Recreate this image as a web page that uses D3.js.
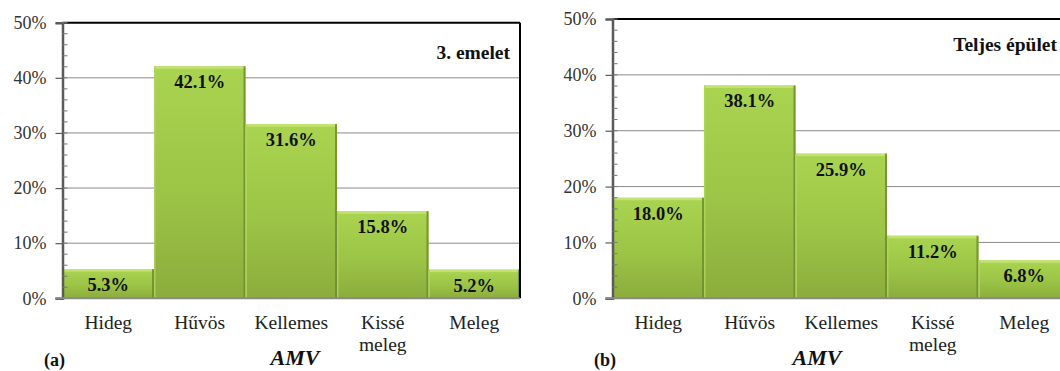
<!DOCTYPE html>
<html>
<head>
<meta charset="utf-8">
<script src="https://cdn.jsdelivr.net/npm/d3@7"></script>
<style>
  html, body { margin: 0; padding: 0; background: #fff; }
  svg { display: block; }
</style>
</head>
<body>
<svg id="chart" width="1060" height="371"></svg>
<script>
// Thermal sensation votes (AMV) distribution
const categories = [["Hideg"], ["Hűvös"], ["Kellemes"], ["Kissé", "meleg"], ["Meleg"]];
const floor3Values = [5.3, 42.1, 31.6, 15.8, 5.2];
const buildingValues = [18.0, 38.1, 25.9, 11.2, 6.8];
const yTicks = [0, 10, 20, 30, 40, 50];
const minorTicks = d3.range(0, 50.01, 2);

const SERIF = "'Liberation Serif', 'DejaVu Serif', serif";

const panels = [
  { key: "a", tag: "(a)", title: "3. emelet", values: floor3Values,
    left: 62.5, right: 520, top: 22.7, bottom: 298.3,
    titleX: 510, titleY: 59, tagX: 44, axisTitleX: 295 },
  { key: "b", tag: "(b)", title: "Teljes épület", values: buildingValues,
    left: 612.5, right: 1070, top: 19, bottom: 298.3,
    titleX: 1057, titleY: 51, tagX: 594, axisTitleX: 817 }
];

const svg = d3.select("#chart").style("font-family", SERIF);
const defs = svg.append("defs");
const grad = defs.append("linearGradient")
  .attr("id", "barFill").attr("x1", 0).attr("y1", 0).attr("x2", 0).attr("y2", 1);
grad.append("stop").attr("offset", "0%").attr("stop-color", "#a9d450");
grad.append("stop").attr("offset", "55%").attr("stop-color", "#9cc446");
grad.append("stop").attr("offset", "100%").attr("stop-color", "#8cac3c");

function serifText(sel) {
  return sel.style("font-family", SERIF).attr("fill", "#111");
}

panels.forEach(p => {
  const g = svg.append("g").attr("class", "panel-" + p.key);
  const x = d3.scaleBand()
    .domain(categories.map((c, i) => i))
    .range([p.left, p.right])
    .paddingInner(0).paddingOuter(0);
  const y = d3.scaleLinear().domain([0, 50]).range([p.bottom, p.top]);

  // gridlines
  g.append("g").selectAll("line").data(yTicks.filter(t => t > 0 && t < 50)).join("line")
    .attr("x1", p.left).attr("x2", p.right)
    .attr("y1", d => y(d)).attr("y2", d => y(d))
    .attr("stroke", "#8a8a8a").attr("stroke-width", 1);

  // bars
  const bars = g.append("g").selectAll("g").data(p.values).join("g");
  bars.append("rect")
    .attr("x", (d, i) => x(i)).attr("y", d => y(d))
    .attr("width", x.bandwidth()).attr("height", d => y(0) - y(d))
    .attr("fill", "url(#barFill)");
  // top highlight
  bars.append("rect")
    .attr("x", (d, i) => x(i) + 1).attr("y", d => y(d))
    .attr("width", x.bandwidth() - 2).attr("height", 2.5)
    .attr("fill", "#c3e274");
  // left soft edge
  bars.append("rect")
    .attr("x", (d, i) => x(i)).attr("y", d => y(d))
    .attr("width", 1.5).attr("height", d => y(0) - y(d))
    .attr("fill", "#b2d65e").attr("opacity", 0.8);
  // right shaded edge
  bars.append("rect")
    .attr("x", (d, i) => x(i) + x.bandwidth() - 2).attr("y", d => y(d))
    .attr("width", 2).attr("height", d => y(0) - y(d))
    .attr("fill", "#6f8c2c").attr("opacity", 0.85);

  // value labels
  bars.append("text")
    .attr("x", (d, i) => x(i) + x.bandwidth() / 2)
    .attr("y", d => y(d) + 22)
    .attr("text-anchor", "middle")
    .attr("font-weight", "bold").attr("font-size", 18.5)
    .call(serifText)
    .text(d => d.toFixed(1) + "%");

  // frame: black top and right
  g.append("line").attr("x1", p.left).attr("x2", p.right)
    .attr("y1", p.top).attr("y2", p.top)
    .attr("stroke", "#000").attr("stroke-width", 2);
  g.append("line").attr("x1", p.right).attr("x2", p.right)
    .attr("y1", p.top).attr("y2", p.bottom)
    .attr("stroke", "#000").attr("stroke-width", 2);

  // y axis
  const yAxis = d3.axisLeft(y).tickValues(yTicks).tickSize(7).tickPadding(9)
    .tickFormat(d => d + "%");
  const ya = g.append("g").attr("transform", `translate(${p.left},0)`).call(yAxis);
  ya.attr("font-family", null).attr("font-size", null);
  ya.select(".domain").attr("stroke", "#5a5a5a").attr("stroke-width", 2.5);
  ya.selectAll(".tick line").attr("stroke", "#5a5a5a").attr("stroke-width", 1.2);
  ya.selectAll(".tick text")
    .attr("font-size", 18).call(serifText).attr("fill", "#333");
  // minor ticks inside
  g.append("g").selectAll("line").data(minorTicks).join("line")
    .attr("x1", p.left).attr("x2", p.left + 5)
    .attr("y1", d => y(d)).attr("y2", d => y(d))
    .attr("stroke", "#777").attr("stroke-width", 1);

  // x baseline
  g.append("line").attr("x1", p.left - 7).attr("x2", p.right)
    .attr("y1", y(0)).attr("y2", y(0))
    .attr("stroke", "#8a8a8a").attr("stroke-width", 2);

  // category labels
  const cat = g.append("g").selectAll("text").data(categories).join("text")
    .attr("x", (d, i) => x(i) + x.bandwidth() / 2)
    .attr("y", 329)
    .attr("text-anchor", "middle")
    .attr("font-size", 19.5)
    .call(serifText).attr("fill", "#222");
  cat.selectAll("tspan").data(d => d).join("tspan")
    .attr("x", function () { return d3.select(this.parentNode).attr("x"); })
    .attr("dy", (d, j) => j === 0 ? 0 : 22)
    .text(d => d);

  // panel title
  g.append("text").attr("x", p.titleX).attr("y", p.titleY)
    .attr("text-anchor", "end").attr("font-weight", "bold").attr("font-size", 19.5)
    .call(serifText)
    .text(p.title);

  // panel tag and axis title
  g.append("text").attr("x", p.tagX).attr("y", 366)
    .attr("font-weight", "bold").attr("font-size", 18)
    .call(serifText).text(p.tag);
  g.append("text").attr("x", p.axisTitleX).attr("y", 365)
    .attr("text-anchor", "middle").attr("font-weight", "bold")
    .attr("font-style", "italic").attr("font-size", 22)
    .call(serifText).text("AMV");
});
</script>
</body>
</html>
